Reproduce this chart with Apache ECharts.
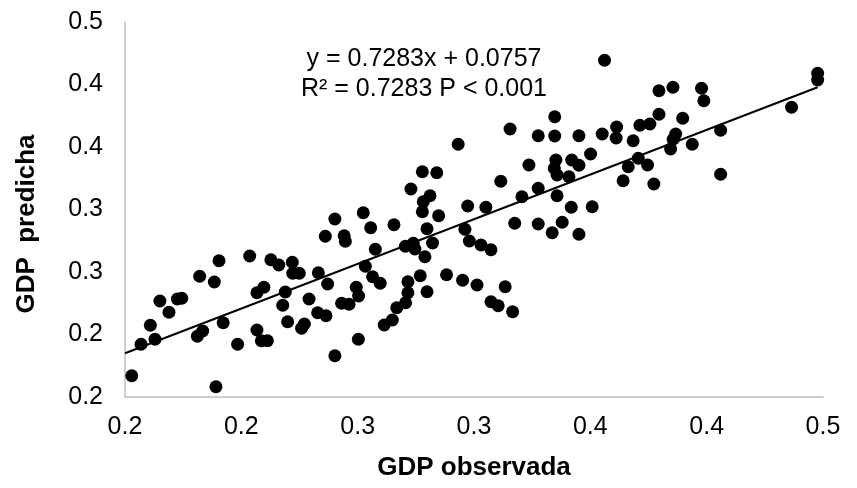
<!DOCTYPE html>
<html>
<head>
<meta charset="utf-8">
<script src="https://cdn.jsdelivr.net/npm/echarts@6/dist/echarts.min.js"></script>
<style>html,body{margin:0;padding:0;background:#fff;}#c{width:857px;height:488px;}</style>
</head>
<body>
<div id="c"></div>
<script>
var xTickLabels = ['0.2','0.2','0.3','0.3','0.4','0.4','0.5'];
var yTickLabels = ['0.2','0.2','0.3','0.3','0.4','0.4','0.5'];
var xObserved = [0.1529,0.1569,0.1609,0.1629,0.1650,0.1689,0.1725,0.1744,0.1821,0.1884,0.1904,0.1811,0.1834,0.1891,0.1922,0.1984,0.2036,0.2067,0.2097,0.2067,0.2086,0.2112,0.2127,0.2161,0.2219,0.2221,0.2189,0.2178,0.2199,0.2249,0.2259,0.2271,0.2291,0.2331,0.2371,0.2328,0.2364,0.2402,0.2361,0.2442,0.2447,0.2524,0.2556,0.2576,0.2533,0.2564,0.2597,0.2494,0.2504,0.2431,0.2463,0.2503,0.2402,0.2656,0.2705,0.2739,0.2746,0.2822,0.2789,0.2798,0.2769,0.2882,0.2716,0.2716,0.2798,0.2706,0.2668,0.2649,0.2614,0.2778,0.2840,0.2729,0.2811,0.2782,0.2778,0.2848,0.3347,0.3155,0.3276,0.3347,0.3451,0.2932,0.3501,0.3236,0.3352,0.3345,0.3357,0.3420,0.3451,0.3408,0.3115,0.3276,0.3206,0.3357,0.2973,0.3051,0.3418,0.3508,0.3175,0.3276,0.3379,0.3336,0.3451,0.2961,0.2980,0.3030,0.3073,0.2951,0.3013,0.3134,0.3073,0.3104,0.3166,0.3561,0.4477,0.4477,0.3795,0.3855,0.3978,0.3988,0.4365,0.3795,0.3897,0.3713,0.3756,0.3613,0.3611,0.3551,0.3684,0.3867,0.3856,0.3845,0.4060,0.3938,0.3706,0.3663,0.3746,0.3641,0.3773,0.4060];
var yPredicted = [0.1670,0.1922,0.2074,0.1962,0.2268,0.2178,0.2284,0.2290,0.2466,0.2420,0.2590,0.1986,0.2028,0.1582,0.2094,0.1922,0.2628,0.2334,0.2378,0.2036,0.1950,0.1950,0.2598,0.2556,0.2578,0.2490,0.2340,0.2234,0.2102,0.2490,0.2050,0.2084,0.2284,0.2494,0.2404,0.2174,0.2150,0.2924,0.2786,0.2790,0.2746,0.2974,0.2854,0.2682,0.2546,0.2462,0.2410,0.2378,0.2308,0.2250,0.2242,0.1962,0.1830,0.2878,0.2706,0.2730,0.2684,0.2732,0.2622,0.2846,0.2470,0.2478,0.2422,0.2334,0.2342,0.2254,0.2214,0.2116,0.2076,0.3302,0.3294,0.3164,0.3110,0.3062,0.2982,0.2950,0.3742,0.3644,0.3590,0.3588,0.3590,0.3522,0.3444,0.3356,0.3396,0.3330,0.3276,0.3396,0.3354,0.3262,0.3226,0.3170,0.3102,0.3110,0.3028,0.3018,0.3018,0.3022,0.2890,0.2884,0.2898,0.2814,0.2802,0.2842,0.2748,0.2716,0.2678,0.2434,0.2396,0.2382,0.2262,0.2230,0.2182,0.4194,0.4090,0.4036,0.3950,0.3978,0.3970,0.3870,0.3818,0.3762,0.3730,0.3674,0.3684,0.3660,0.3572,0.3604,0.3550,0.3604,0.3562,0.3484,0.3634,0.3522,0.3410,0.3342,0.3356,0.3230,0.3204,0.3282];
var trendX = [0.15, 0.4477];
var trendY = [0.185, 0.3978];
var equationLine1 = 'y = 0.7283x + 0.0757';
var equationLine2 = 'R² = 0.7283 P < 0.001';
var xTitle = 'GDP observada';
var yTitle = 'GDP  predicha';

var pts = xObserved.map(function(x, i){ return [x, yPredicted[i]]; });
var trend = trendX.map(function(x, i){ return [x, trendY[i]]; });
function lab(arr){ return function(v){ var i = Math.round((v - 0.15) / 0.05); return arr[i] !== undefined ? arr[i] : ''; }; }
var FONT = '"Liberation Sans", Arial, sans-serif';

var chart = echarts.init(document.getElementById('c'), null, {renderer: 'canvas'});
chart.setOption({
  animation: false,
  backgroundColor: '#fff',
  grid: {left: 125, right: 34, top: 22, bottom: 91, containLabel: false},
  xAxis: {
    type: 'value', min: 0.15, max: 0.45, interval: 0.05,
    name: xTitle, nameLocation: 'middle', nameGap: 58,
    nameTextStyle: {fontFamily: FONT, fontSize: 26, fontWeight: 'bold', color: '#000'},
    axisLine: {show: true, lineStyle: {color: '#bfbfbf', width: 1.5}},
    axisTick: {show: false},
    splitLine: {show: false},
    axisLabel: {formatter: lab(xTickLabels), fontFamily: FONT, fontSize: 25, color: '#000', margin: 18}
  },
  yAxis: {
    type: 'value', min: 0.15, max: 0.45, interval: 0.05,
    axisLine: {show: true, lineStyle: {color: '#bfbfbf', width: 1.5}},
    axisTick: {show: false},
    splitLine: {show: false},
    axisLabel: {formatter: lab(yTickLabels), fontFamily: FONT, fontSize: 25, color: '#000', margin: 22}
  },
  graphic: [
    {type: 'text', x: 27, y: 224, rotation: Math.PI / 2, style: {text: yTitle, font: 'bold 26px ' + FONT, fill: '#000', textAlign: 'center', textVerticalAlign: 'middle'}},
    {type: 'text', x: 424, y: 59, style: {text: equationLine1, font: '25px ' + FONT, fill: '#000', textAlign: 'center', textVerticalAlign: 'middle'}},
    {type: 'text', x: 424, y: 89, style: {text: equationLine2, font: '25px ' + FONT, fill: '#000', textAlign: 'center', textVerticalAlign: 'middle'}}
  ],
  series: [
    {type: 'scatter', data: pts, symbol: 'circle', symbolSize: 13, itemStyle: {color: '#000', opacity: 1}, z: 3},
    {type: 'line', data: trend, symbol: 'none', lineStyle: {color: '#000', width: 2}, z: 4}
  ]
});
</script>
</body>
</html>
